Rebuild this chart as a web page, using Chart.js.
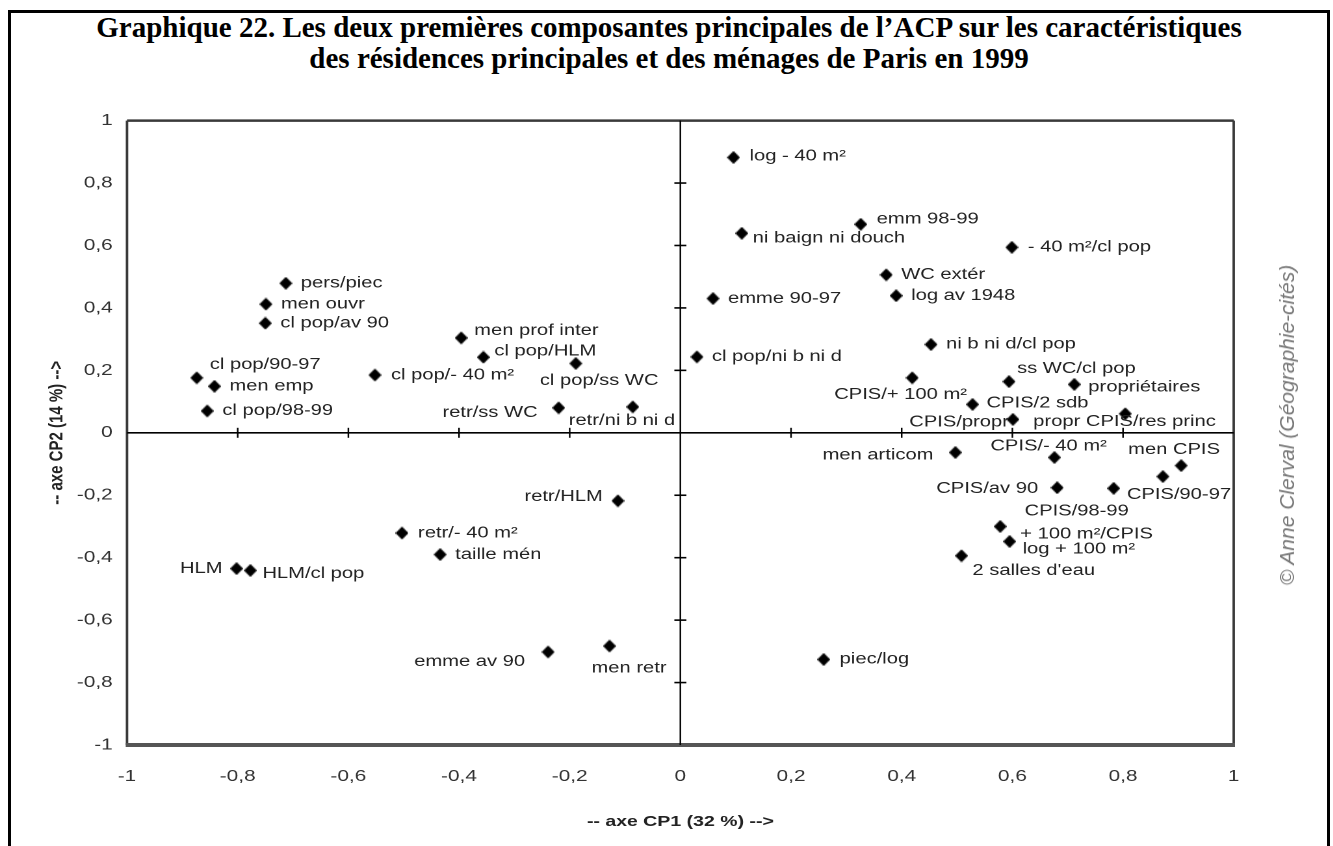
<!DOCTYPE html>
<html>
<head>
<meta charset="utf-8">
<script src="https://cdn.jsdelivr.net/npm/chart.js@4.4.1/dist/chart.umd.min.js"></script>
<style>
  html, body { margin: 0; padding: 0; background: #fff; }
  body { width: 1333px; height: 846px; position: relative; overflow: hidden; }
  #frame { position: absolute; left: 8px; top: 10px; width: 1316px; height: 900px;
           border: 3px solid #000; border-bottom: none; }
  #title { position: absolute; left: 11px; top: 12px; width: 1316px; text-align: center;
           font-family: "Liberation Serif", "Times New Roman", serif; font-weight: bold;
           font-size: 29px; line-height: 31px; color: #000; }
  #wrap { position: absolute; left: 0; top: 100px; width: 1025px; height: 746px;
          transform: scaleX(1.3); transform-origin: 0 0; }
  #credit { position: absolute; left: 1287px; top: 425px; transform: translate(-50%, -50%) rotate(-90deg);
            white-space: nowrap; font-family: "Liberation Sans", Arial, sans-serif; font-style: italic;
            font-size: 21px; color: #777; }
</style>
</head>
<body>
<div id="frame"></div>
<div id="title">Graphique 22. Les deux premières composantes principales de l’ACP sur les caractéristiques<br>des résidences principales et des ménages de Paris en 1999</div>
<div id="wrap"><canvas id="chart"></canvas></div>
<div id="credit">© Anne Clerval (Géographie-cités)</div>
<script>
// Variables (ACP, axes 1 et 2)
const names = [
  "log - 40 m²", "emm 98-99", "ni baign ni douch", "- 40 m²/cl pop", "WC extér",
  "log av 1948", "emme 90-97", "ni b ni d/cl pop", "cl pop/ni b ni d", "CPIS/+ 100 m²",
  "ss WC/cl pop", "propriétaires", "CPIS/2 sdb", "CPIS/propr", "propr CPIS/res princ",
  "men articom", "CPIS/- 40 m²", "men CPIS", "CPIS/90-97", "CPIS/av 90",
  "CPIS/98-99", "+ 100 m²/CPIS", "log + 100 m²", "2 salles d'eau", "piec/log",
  "pers/piec", "men ouvr", "cl pop/av 90", "cl pop/90-97", "men emp",
  "cl pop/98-99", "cl pop/- 40 m²", "men prof inter", "cl pop/HLM", "cl pop/ss WC",
  "retr/ss WC", "retr/ni b ni d", "retr/HLM", "retr/- 40 m²", "taille mén",
  "HLM", "HLM/cl pop", "emme av 90", "men retr"
]
const cp1 = [
  0.096, 0.326, 0.111, 0.599, 0.372,
  0.390, 0.059, 0.453, 0.030, 0.419,
  0.594, 0.712, 0.528, 0.601, 0.804,
  0.497, 0.676, 0.905, 0.872, 0.681,
  0.783, 0.578, 0.595, 0.508, 0.259,
  -0.713, -0.749, -0.750, -0.874, -0.842,
  -0.855, -0.552, -0.396, -0.356, -0.189,
  -0.220, -0.086, -0.113, -0.503, -0.434,
  -0.802, -0.777, -0.239, -0.128
]
const cp2 = [
  0.882, 0.668, 0.639, 0.594, 0.506,
  0.439, 0.430, 0.283, 0.243, 0.176,
  0.164, 0.155, 0.091, 0.043, 0.061,
  -0.063, -0.079, -0.105, -0.140, -0.176,
  -0.178, -0.300, -0.348, -0.394, -0.726,
  0.479, 0.412, 0.351, 0.176, 0.149,
  0.070, 0.185, 0.304, 0.242, 0.222,
  0.080, 0.083, -0.218, -0.321, -0.390,
  -0.435, -0.441, -0.702, -0.683
]
const axisMin = -1
const axisMax = 1
const axisStep = 0.2

// label offsets from the marker (px on screen): dx, dy, alignment
const labelPlace = [
  [16, -1, "l"], [16, -5, "l"], [11, 5, "l"], [16, 0, "l"], [15, 0, "l"],
  [15, 0, "l"], [15, 0, "l"], [15, 0, "l"], [15, 0, "l"], [-78, 17, "l"],
  [8, -13, "l"], [14, 3, "l"], [14, -1, "l"], [-4, 3, "r"], [-92, 8, "l"],
  [-22, 3, "r"], [-64, -11, "l"], [-53, -16, "l"], [-36, 18, "l"], [-19, 1, "r"],
  [-89, 23, "l"], [20, 8, "l"], [13, 8, "l"], [11, 15, "l"], [16, 0, "l"],
  [15, 0, "l"], [15, 0, "l"], [15, 0, "l"], [13, -13, "l"], [15, 0, "l"],
  [15, 0, "l"], [16, 0, "l"], [13, -7, "l"], [11, -6, "l"], [-36, 17, "l"],
  [-21, 5, "r"], [-64, 14, "l"], [-15, -4, "r"], [16, 0, "l"], [15, 0, "l"],
  [-14, 0, "r"], [12, 3, "l"], [-23, 10, "r"], [-18, 22, "l"]
]

// the picture is stretched sideways, the canvas is drawn narrow and scaled
const S = 1.3
const FONT = '"Liberation Sans", Arial, sans-serif'

function fmt(v) {
  const r = Math.round(v * 10) / 10
  return (Math.abs(r) < 1e-9 ? "0" : String(r)).replace(".", ",")
}

function diamond(w, h) {
  const c = document.createElement("canvas")
  c.width = w
  c.height = h
  const g = c.getContext("2d")
  g.fillStyle = "#000"
  g.beginPath()
  g.moveTo(w / 2, 0)
  g.lineTo(w, h / 2)
  g.lineTo(w / 2, h)
  g.lineTo(0, h / 2)
  g.closePath()
  g.fill()
  return c
}

// frame of the plot and the two axes crossing at zero
const crossAxes = {
  id: "crossAxes",
  beforeDatasetsDraw(chart) {
    const { ctx, chartArea: a } = chart
    const xs = chart.scales.x, ys = chart.scales.y
    const x0 = xs.getPixelForValue(0), y0 = ys.getPixelForValue(0)
    ctx.save()
    ctx.strokeStyle = "#3a3a3a"
    ctx.lineWidth = 2.5
    ctx.beginPath(); ctx.moveTo(a.left, a.top); ctx.lineTo(a.right, a.top); ctx.stroke()
    ctx.lineWidth = 2.5 / S
    ctx.beginPath(); ctx.moveTo(a.left, a.top); ctx.lineTo(a.left, a.bottom); ctx.stroke()
    ctx.beginPath(); ctx.moveTo(a.right, a.top); ctx.lineTo(a.right, a.bottom); ctx.stroke()
    ctx.strokeStyle = "#555"
    ctx.lineWidth = 4
    ctx.beginPath(); ctx.moveTo(a.left - 1, a.bottom); ctx.lineTo(a.right + 1, a.bottom); ctx.stroke()

    ctx.strokeStyle = "#000"
    ctx.lineWidth = 1.6
    ctx.beginPath(); ctx.moveTo(a.left, y0); ctx.lineTo(a.right, y0); ctx.stroke()
    ctx.lineWidth = 1.6 / S
    ctx.beginPath(); ctx.moveTo(x0, a.top); ctx.lineTo(x0, a.bottom); ctx.stroke()
    xs.ticks.forEach((t) => {
      if (t.value <= axisMin || t.value >= axisMax || Math.abs(t.value) < 1e-9) return
      const px = xs.getPixelForValue(t.value)
      ctx.beginPath(); ctx.moveTo(px, y0 - 5); ctx.lineTo(px, y0 + 5); ctx.stroke()
    })
    ctx.lineWidth = 1.6
    ys.ticks.forEach((t) => {
      if (t.value <= axisMin || t.value >= axisMax || Math.abs(t.value) < 1e-9) return
      const py = ys.getPixelForValue(t.value)
      ctx.beginPath(); ctx.moveTo(x0 - 6 / S, py); ctx.lineTo(x0 + 6 / S, py); ctx.stroke()
    })
    ctx.restore()
  },
}

// point names next to each marker
const pointNames = {
  id: "pointNames",
  afterDatasetsDraw(chart) {
    const { ctx } = chart
    const meta = chart.getDatasetMeta(0)
    ctx.save()
    ctx.font = "15.5px " + FONT
    ctx.fillStyle = "#222"
    ctx.textBaseline = "middle"
    meta.data.forEach((el, i) => {
      const [dx, dy, al] = labelPlace[i]
      ctx.textAlign = al === "r" ? "right" : "left"
      ctx.fillText(names[i], el.x + dx / S, el.y + dy)
    })
    ctx.restore()
  },
}

Chart.defaults.font.family = FONT

new Chart(document.getElementById("chart"), {
  type: "scatter",
  data: {
    datasets: [{
      data: cp1.map((x, i) => ({ x: x, y: cp2[i] })),
      pointStyle: diamond(10, 13),
      pointRadius: 6,
      backgroundColor: "#000",
    }],
  },
  options: {
    responsive: true,
    maintainAspectRatio: false,
    animation: false,
    devicePixelRatio: 2,
    layout: { padding: { left: 0, right: 76, top: 20, bottom: 0 } },
    plugins: { legend: { display: false }, tooltip: { enabled: false } },
    scales: {
      x: {
        type: "linear", min: axisMin, max: axisMax,
        ticks: { stepSize: axisStep, padding: 22, color: "#333", font: { size: 16 },
                 callback: fmt, maxRotation: 0, autoSkip: false },
        grid: { display: false, drawTicks: false },
        border: { display: false },
        title: { display: true, text: "-- axe CP1 (32 %) -->", color: "#222",
                 font: { size: 15, weight: "bold" }, padding: { top: 0, bottom: 15 } },
        afterFit: (s) => { s.height = 101 },
      },
      y: {
        type: "linear", min: axisMin, max: axisMax,
        ticks: { stepSize: axisStep, padding: 11, color: "#333", font: { size: 16 },
                 callback: fmt, autoSkip: false },
        grid: { display: false, drawTicks: false },
        border: { display: false },
        title: { display: true, text: "-- axe CP2 (14 %) -->", color: "#222",
                 font: { size: 15, weight: "bold" }, padding: { top: 35, bottom: 0 } },
        afterFit: (s) => { s.width = 97.7 },
      },
    },
  },
  plugins: [crossAxes, pointNames],
})
</script>
</body>
</html>
